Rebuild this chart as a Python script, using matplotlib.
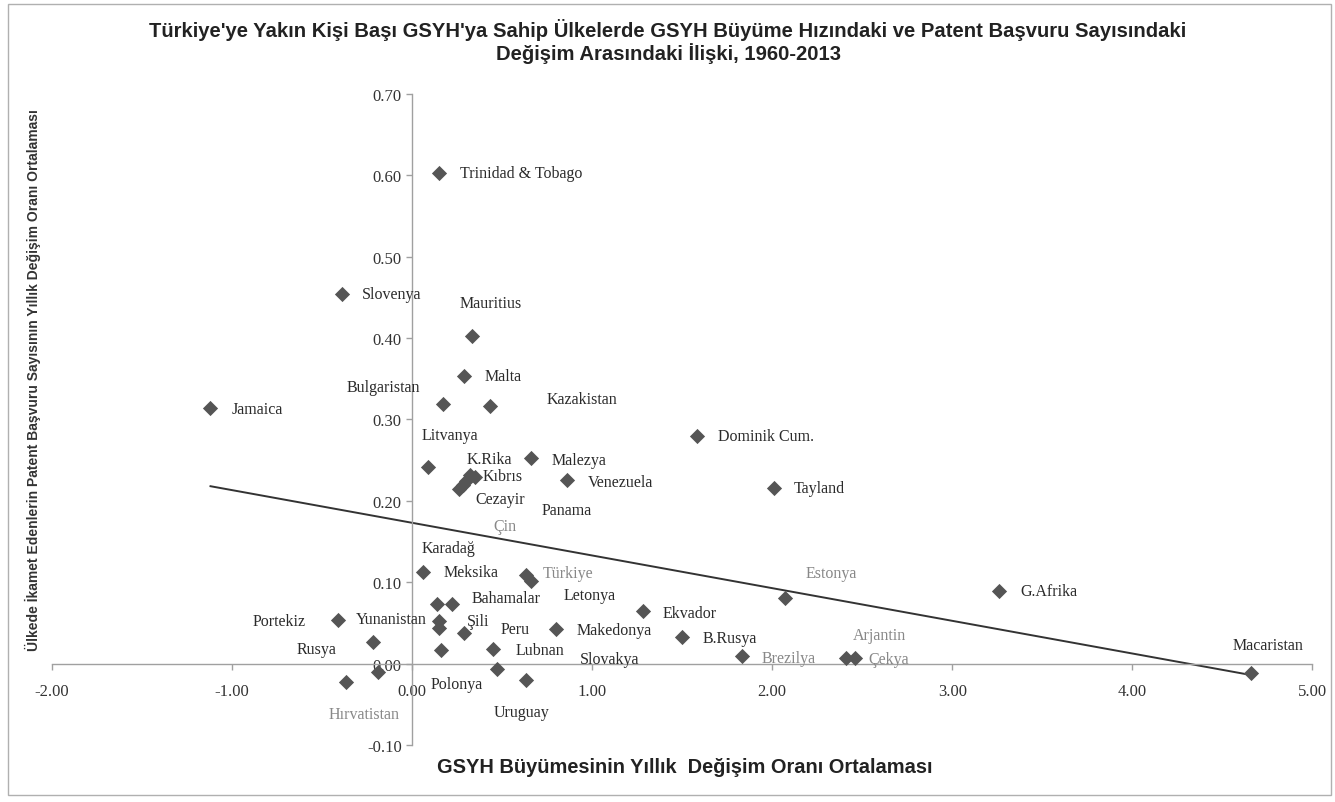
import matplotlib
matplotlib.use('Agg')
import matplotlib.pyplot as plt
import numpy as np
from matplotlib.patches import Rectangle

# country names, x = GSYH growth change, y = patent application change
countries = ['Trinidad & Tobago', 'Slovenya', 'Mauritius', 'Malta', 'Bulgaristan',
             'Kazakistan', 'Jamaica', 'Dominik Cum.', 'Litvanya', 'Malezya',
             'K.Rika', 'Kıbrıs', 'Cezayir', 'Panama', 'Çin',
             'Venezuela', 'Tayland', 'Meksika', 'Türkiye', 'Letonya',
             'Estonya', 'G.Afrika', 'Bahamalar', 'Karadağ', 'Portekiz',
             'Yunanistan', 'Şili', 'Peru', 'Makedonya', 'Ekvador',
             'B.Rusya', 'Brezilya', 'Arjantin', 'Çekya', 'Macaristan',
             'Rusya', '', 'Hırvatistan', 'Polonya', 'Lubnan',
             'Slovakya', 'Uruguay']
gdp = [0.15, -0.39, 0.33, 0.29, 0.17,
       0.43, -1.12, 1.58, 0.09, 0.66,
       0.32, 0.35, 0.26, 0.30, 0.28,
       0.86, 2.01, 0.06, 0.63, 0.66,
       2.07, 3.26, 0.14, 0.22, -0.41,
       0.15, 0.15, 0.29, 0.80, 1.28,
       1.50, 1.83, 2.41, 2.46, 4.66,
       -0.22, -0.19, -0.37, 0.16, 0.45,
       0.47, 0.63]
patent = [0.603, 0.454, 0.403, 0.353, 0.319,
          0.316, 0.314, 0.279, 0.242, 0.253,
          0.232, 0.229, 0.215, 0.224, 0.219,
          0.225, 0.216, 0.112, 0.109, 0.102,
          0.081, 0.089, 0.073, 0.073, 0.053,
          0.052, 0.044, 0.037, 0.042, 0.065,
          0.033, 0.009, 0.007, 0.007, -0.012,
          0.026, -0.010, -0.023, 0.017, 0.018,
          -0.007, -0.020]

# label offsets (pixels) from each point, as Excel left them
label_off = [(21, 0), (20, 0), (-12, 33), (20, 0), (-96, 17),
             (57, 7), (21, -1), (21, 0), (-7, 32), (21, -2),
             (-3, 16), (7, 1), (16, -10), (75, -29), (31, -41),
             (21, -2), (20, 0), (21, 0), (17, 2), (33, -14),
             (21, 25), (21, 0), (34, 6), (-30, 56), (-86, -1),
             (-83, 2), (28, 7), (36, 4), (20, -1), (20, -2),
             (20, -1), (20, -2), (7, 23), (13, -1), (-18, 28),
             (-76, -7), (0, 0), (-17, -32), (-10, -34), (22, -1),
             (83, 10), (-32, -32)]
faded = ['Türkiye', 'Çin', 'Estonya', 'Arjantin', 'Brezilya', 'Hırvatistan', 'Çekya']

x = np.array(gdp)
y = np.array(patent)

fig = plt.figure(figsize=(13.35, 8.03), dpi=100)
ax = fig.add_axes([0.039, 0.071, 0.944, 0.811])

ax.scatter(x, y, marker='D', s=60, color='#555555', zorder=3, linewidths=0)

# linear trendline
m, b = np.polyfit(x, y, 1)
xs = np.array([x.min(), x.max()])
ax.plot(xs, m * xs + b, color='#333333', lw=1.4, zorder=2)

for name, xi, yi, off in zip(countries, x, y, label_off):
    if not name:
        continue
    col = '#888888' if name in faded else '#2b2b2b'
    ax.annotate(name, (xi, yi), xytext=off, textcoords='offset pixels',
                ha='left', va='center', fontsize=11.5, color=col,
                family='Liberation Serif')

ax.set_xlim(-2, 5)
ax.set_ylim(-0.10, 0.70)
ax.set_xticks(np.arange(-2, 6, 1))
ax.set_yticks(np.arange(-0.1, 0.71, 0.1))
ax.xaxis.set_major_formatter(plt.FormatStrFormatter('%.2f'))
ax.yaxis.set_major_formatter(plt.FormatStrFormatter('%.2f'))
ax.tick_params(axis='both', labelfontfamily='Liberation Serif', labelsize=12,
               labelcolor='#333333', color='#a0a0a0', length=4, width=1)
ax.tick_params(axis='x', pad=10)

ax.spines['left'].set_position(('data', 0))
ax.spines['bottom'].set_position(('data', 0))
ax.spines['top'].set_visible(False)
ax.spines['right'].set_visible(False)
for s in ['left', 'bottom']:
    ax.spines[s].set_color('#a0a0a0')
    ax.spines[s].set_linewidth(1)
ax.patch.set_visible(False)

sans = ['Liberation Sans', 'DejaVu Sans']
fig.text(668 / 1335, 1 - 30 / 803,
         "Türkiye'ye Yakın Kişi Başı GSYH'ya Sahip Ülkelerde GSYH Büyüme Hızındaki ve Patent Başvuru Sayısındaki",
         ha='center', va='center', fontsize=14.6, fontweight='bold', family=sans, color='#222222')
fig.text(668 / 1335, 1 - 54 / 803, 'Değişim Arasındaki İlişki, 1960-2013',
         ha='center', va='center', fontsize=14.6, fontweight='bold', family=sans, color='#222222')
fig.text(685 / 1335, 1 - 768 / 803, 'GSYH Büyümesinin Yıllık  Değişim Oranı Ortalaması',
         ha='center', va='center', fontsize=14.4, fontweight='bold', family=sans, color='#222222')
fig.text(33 / 1335, 1 - 380 / 803,
         'Ülkede İkamet Edenlerin Patent Başvuru Sayısının Yıllık Değişim Oranı Ortalaması',
         ha='center', va='center', rotation=90, fontsize=10, fontweight='bold',
         family=sans, color='#333333')

fig.patches.append(Rectangle((8 / 1335, 1 - 796 / 803), 1323 / 1335, 791 / 803,
                             transform=fig.transFigure, fill=False,
                             edgecolor='#b0b0b0', lw=1))

fig.savefig('out.png', dpi=100)
